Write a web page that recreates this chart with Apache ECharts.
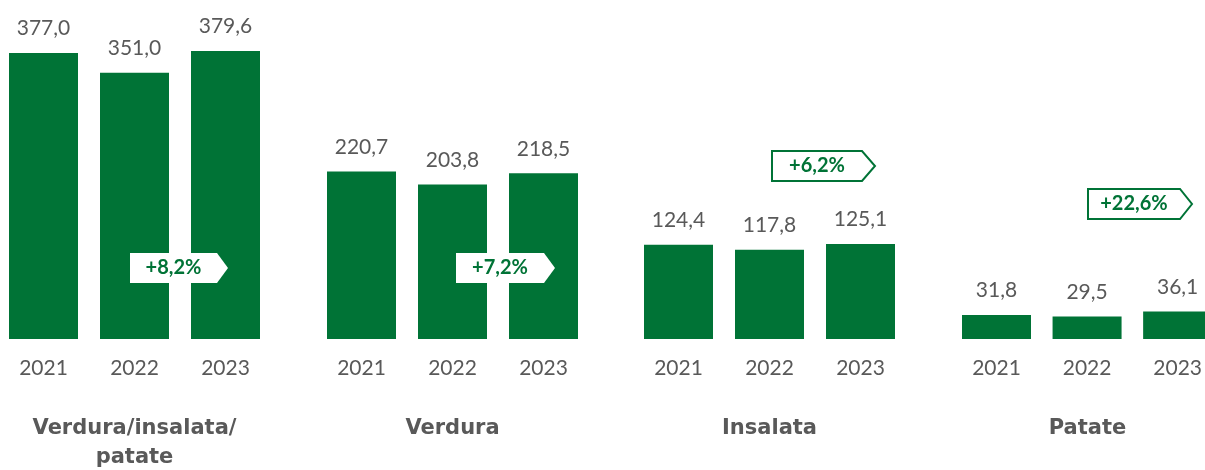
<!DOCTYPE html>
<html>
<head>
<meta charset="utf-8">
<script src="https://cdn.jsdelivr.net/npm/echarts@6/dist/echarts.min.js"></script>
<style>
  html, body { margin: 0; padding: 0; background: #fff; }
  #chart { width: 1205px; height: 470px; }
</style>
</head>
<body>
<div id="chart"></div>
<script>
// dati
const years = ['2021', '2022', '2023']
const groups = ['Verdura/insalata/\npatate', 'Verdura', 'Insalata', 'Patate']
const v2021 = [377.0, 220.7, 124.4, 31.8]
const v2022 = [351.0, 203.8, 117.8, 29.5]
const v2023 = [379.6, 218.5, 125.1, 36.1]
const changes = ['+8,2%', '+7,2%', '+6,2%', '+22,6%']

const GREEN = '#007336'
const GREY = '#595959'
const FONT = 'Lato'

// layout: la griglia va dal centro della prima barra al centro della terza
const gridLeft = [43.5, 361.5, 678.5, 996.5]
const gridW = 182
const gridTop = 35.6
const gridH = 303.4
// badge: x, y, larghezza corpo, punta, pieno (true) o contorno (false)
const badges = [
  { x: 130, y: 253, w: 87, tip: 11, filled: true },
  { x: 456, y: 253, w: 88, tip: 11, filled: true },
  { x: 772, y: 151, w: 90, tip: 13, filled: false },
  { x: 1088, y: 189, w: 92, tip: 12, filled: false }
]
const badgeH = 30

const fmt = v => v.toFixed(1).replace('.', ',')

const grid = [], xAxis = [], yAxis = [], series = []
groups.forEach((g, i) => {
  grid.push({ left: gridLeft[i], top: gridTop, width: gridW, height: gridH })
  xAxis.push({
    type: 'value',
    gridIndex: i,
    min: 0,
    max: 2,
    interval: 1,
    splitLine: { show: false },
    axisLine: { show: false },
    axisTick: { show: false },
    axisLabel: {
      color: GREY, fontSize: 21, fontFamily: FONT, margin: 19,
      showMinLabel: true, showMaxLabel: true,
      formatter: v => years[v]
    }
  })
  yAxis.push({ type: 'value', gridIndex: i, min: 0, max: 400, show: false })
  series.push({
    type: 'bar',
    xAxisIndex: i,
    yAxisIndex: i,
    data: [v2021[i], v2022[i], v2023[i]].map((v, k) => [k, v]),
    barWidth: 69,
    clip: false,
    itemStyle: { color: GREEN },
    label: {
      show: true,
      position: 'top',
      distance: 14,
      color: GREY,
      fontSize: 21,
      fontFamily: FONT,
      formatter: p => fmt(p.value[1])
    },
    silent: true
  })
})

const graphic = []
// nomi dei gruppi
groups.forEach((g, i) => {
  graphic.push({
    type: 'text',
    z: 100,
    x: gridLeft[i] + gridW / 2,
    y: 414,
    style: {
      text: g,
      fill: GREY,
      font: 'bold 21px "DejaVu Sans"',
      textAlign: 'center',
      lineHeight: 29
    }
  })
})
// badge percentuali
badges.forEach((b, i) => {
  const pts = [
    [b.x, b.y], [b.x + b.w, b.y], [b.x + b.w + b.tip, b.y + badgeH / 2],
    [b.x + b.w, b.y + badgeH], [b.x, b.y + badgeH]
  ]
  graphic.push({
    type: 'polygon',
    z: 100,
    shape: { points: pts },
    style: b.filled ? { fill: '#fff' } : { fill: '#fff', stroke: GREEN, lineWidth: 2 }
  })
  graphic.push({
    type: 'text',
    z: 101,
    x: b.x + b.w / 2,
    y: b.y + badgeH / 2,
    style: {
      text: changes[i],
      fill: GREEN,
      font: 'bold 20px ' + FONT,
      textAlign: 'center',
      textVerticalAlign: 'middle'
    }
  })
})

const chart = echarts.init(document.getElementById('chart'))
chart.setOption({
  animation: false,
  grid, xAxis, yAxis, series, graphic
})
</script>
</body>
</html>
